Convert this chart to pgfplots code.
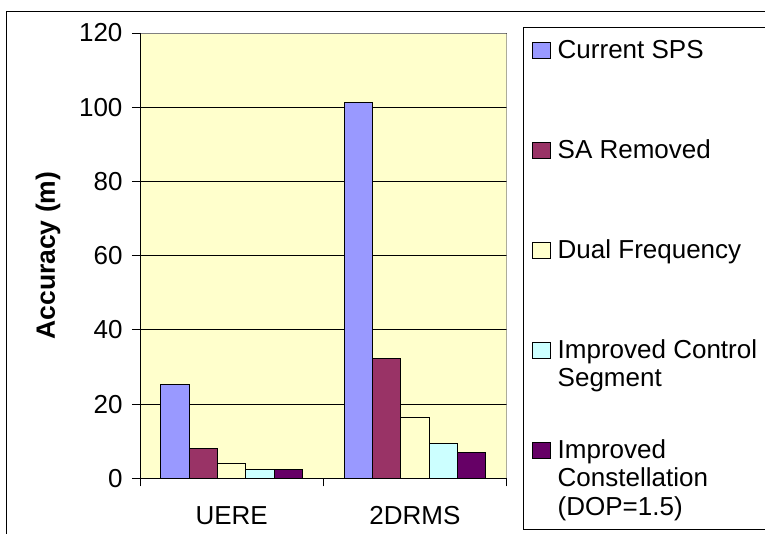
\documentclass[border=0pt]{standalone}
\usepackage{pgfplots}
\pgfplotsset{compat=1.18}
\usepackage{fontspec}
\setmainfont{Liberation Sans}
\definecolor{cSPS}{HTML}{9999FF}
\definecolor{cSA}{HTML}{993366}
\definecolor{cDF}{HTML}{FFFFCC}
\definecolor{cIC}{HTML}{CCFFFF}
\definecolor{cCon}{HTML}{660066}
\definecolor{bgY}{HTML}{FFFFCC}
\begin{document}
\begin{tikzpicture}[x=1pt,y=1pt]
\useasboundingbox (0,0) rectangle (765,534);
\draw[black, line width=0.8pt] (6.7,-5) -- (6.7,522.3) -- (770,522.3);
\draw[black, line width=0.8pt] (770,506.7) -- (523.3,506.7) -- (523.3,4.7) -- (770,4.7);
\begin{axis}[
  at={(140pt,55.7pt)}, anchor=south west, scale only axis,
  width=366.5pt, height=445.3pt,
  xmin=-0.5, xmax=1.5, ymin=0, ymax=120,
  ybar=0pt, bar width=0.1544,
  xtick={0,1}, xticklabels={UERE,2DRMS},
  major x tick style={draw=none},
  minor xtick={-0.5,0.5,1.5},
  ytick={0,20,...,120},
  tick pos=left,
  tick align=outside, major tick length=8pt, minor tick length=8pt,
  tick style={black, line width=0.8pt},
  ymajorgrids, grid style={black, line width=0.8pt},
  axis line style={draw=none},
  axis background/.style={fill=bgY},
  ticklabel style={font=\fontsize{26}{30}\selectfont},
  /pgf/number format/assume math mode=true,
  xticklabel style={yshift=-17pt},
  yticklabel style={xshift=-6pt},
  ylabel={Accuracy (m)},
  ylabel style={font=\fontsize{26.5}{30}\selectfont\bfseries, at={(axis description cs:-0.251,0.5)}, anchor=center},
  legend style={draw=none, fill=none, at={(axis description cs:1.0688,0.9881)}, anchor=north west,
    inner sep=0pt, row sep=74pt, column sep=7pt, font=\fontsize{26}{28.3}\selectfont,
    nodes={inner sep=0pt, text height=20pt, text depth=6pt}},
  legend cell align=left,
  legend image code/.code={\draw[#1,draw=black,line width=0.8pt] (0pt,-7pt) rectangle (18pt,9.5pt);},
]
\addplot[fill=cSPS, draw=black, line width=0.8pt] coordinates {(0,25.3) (1,101.4)};
\addplot[fill=cSA, draw=black, line width=0.8pt] coordinates {(0,8.0) (1,32.3)};
\addplot[fill=cDF, draw=black, line width=0.8pt] coordinates {(0,4.1) (1,16.3)};
\addplot[fill=cIC, draw=black, line width=0.8pt] coordinates {(0,2.3) (1,9.5)};
\addplot[fill=cCon, draw=black, line width=0.8pt] coordinates {(0,2.3) (1,7.0)};
\legend{Current SPS, SA Removed, Dual Frequency, \parbox[t]{230pt}{Improved Control\\Segment}, \parbox[t]{230pt}{Improved\\Constellation\\(DOP=1.5)}}
\draw[gray, line width=0.8pt] (rel axis cs:0,1) -- (rel axis cs:1,1) -- (rel axis cs:1,0);
\draw[black, line width=0.8pt] (rel axis cs:0,1) -- (rel axis cs:0,0) -- (rel axis cs:1,0);
\end{axis}
\end{tikzpicture}
\end{document}
